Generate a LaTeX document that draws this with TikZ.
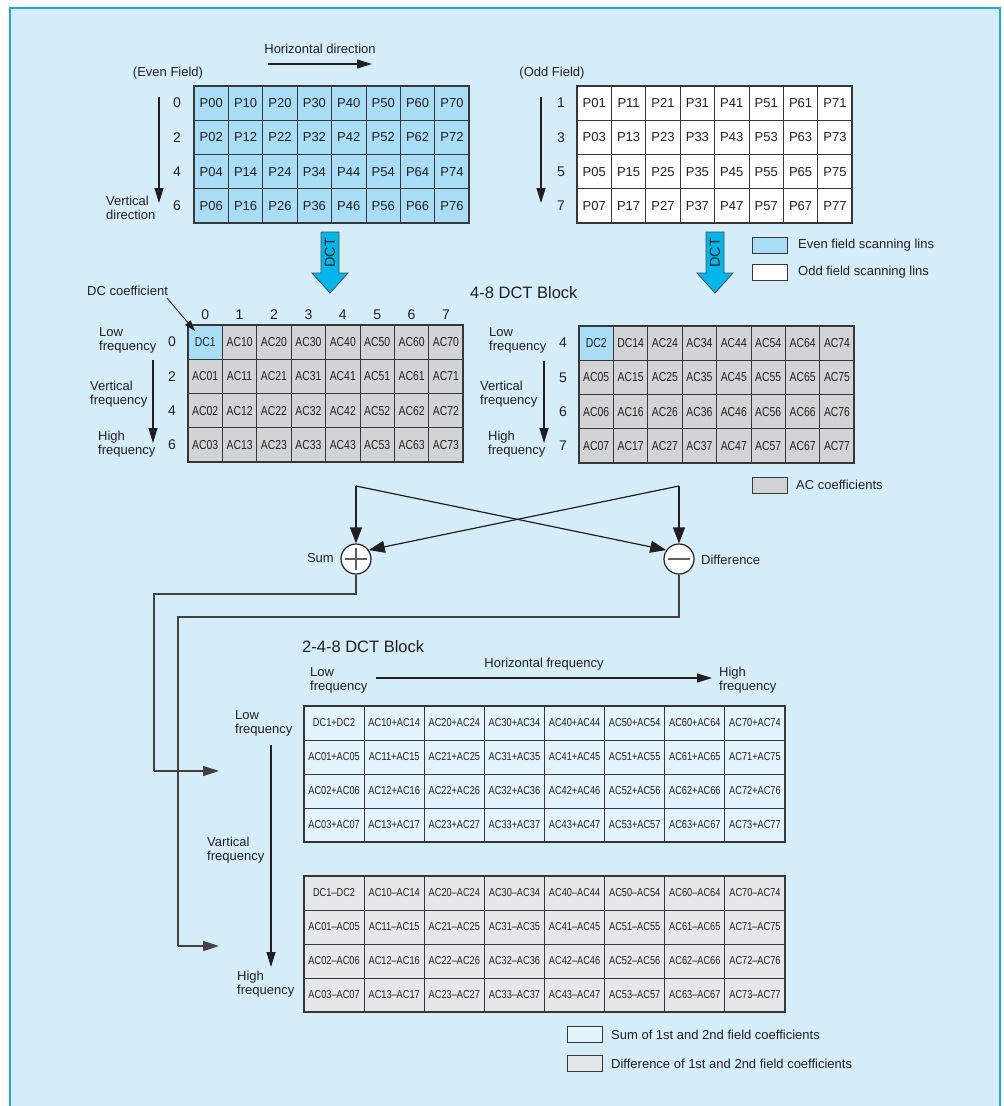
\documentclass[tikz,border=0pt]{standalone}
\usepackage{fontspec}
\setmainfont{Liberation Sans}
\newfontfamily\narrowfont{Liberation Sans}[FakeStretch=0.8]
\usetikzlibrary{arrows.meta}

\definecolor{panelfill}{RGB}{213,236,249}
\definecolor{panelline}{RGB}{30,168,228}
\definecolor{evenfill}{RGB}{168,221,245}
\definecolor{acfill}{RGB}{209,211,212}
\definecolor{sumfill}{RGB}{227,244,252}
\definecolor{difffill}{RGB}{230,231,232}
\definecolor{dctblue}{RGB}{0,183,235}
\definecolor{ink}{RGB}{35,31,32}
\definecolor{gridline}{RGB}{55,55,55}
\definecolor{signgray}{RGB}{95,95,95}

\tikzset{
  lbl/.style={font=\fontsize{13}{14}\selectfont, text=ink, inner sep=0pt, align=left},
  num/.style={font=\fontsize{14}{14}\selectfont, text=ink, inner sep=0pt},
  blocktitle/.style={font=\fontsize{16.5}{18}\selectfont, text=ink, inner sep=0pt},
  pcell/.style={draw=gridline, line width=1pt, minimum width=34.4pt, minimum height=34.25pt,
    inner sep=0pt, outer sep=0pt, font=\fontsize{13}{13}\selectfont, text=ink},
  ccell/.style={pcell, font=\narrowfont\fontsize{13}{13}\selectfont},
  wcell/.style={draw=gridline, line width=1pt, minimum width=60.125pt, minimum height=34pt,
    inner sep=0pt, outer sep=0pt, font=\narrowfont\fontsize{11.5}{12}\selectfont, text=ink},
  gridframe/.style={draw=gridline, line width=1.5pt},
  keybox/.style={draw=gridline, line width=1pt, minimum width=35pt, minimum height=16pt,
    inner sep=0pt},
  arr/.style={draw=ink, line width=1.2pt, -{Triangle[length=15pt,width=9pt]}},
  bigarr/.style={draw=ink, line width=1.2pt, -{Triangle[length=16pt,width=12pt]}},
  thinarr/.style={draw=ink, line width=0.9pt, -{Triangle[length=11pt,width=7pt]}},
  feed/.style={draw=ink!85, line width=1.5pt},
  opcircle/.style={circle, draw=ink, fill=white, line width=1.2pt, minimum size=30pt, inner sep=0pt},
  dctarrow/.style={fill=dctblue, draw=ink!80, line width=0.8pt}
}

\begin{document}
\begin{tikzpicture}[x=1pt,y=-1pt]
\useasboundingbox (0,0) rectangle (1004,1106);
% panel
\fill[white] (0,0) rectangle (1004,1106);
\fill[panelfill] (10,8) rectangle (1000,1112);
\draw[panelline, line width=2.5pt] (10,1112) -- (10,8) -- (1000,8) -- (1000,1112);

% ---------- even field ----------
\node[lbl] (hdir) at (320,49) {Horizontal direction};
\coordinate (hdirA) at (268,64);
\coordinate (hdirB) at (372,64);
\draw[arr] (hdirA) -- (hdirB);
\node[lbl] (evenlbl) at (168,73) {(Even Field)};
\coordinate (vdirA) at (159,97);
\coordinate (vdirB) at (159,203);
\draw[arr] (vdirA) -- (vdirB);
\node[lbl, anchor=west] (vdir) at (106,208) {Vertical\\direction};
\foreach \ry [count=\i from 0] in {0,2,4,6}{
  \node[num] (evrow-\i) at (177,{86+34.25*(\i+0.5)}) {\ry};
  \foreach \cx in {0,...,7}{
    \node[pcell, fill=evenfill] (ev-\cx-\i) at ({194+34.4*(\cx+0.5)},{86+34.25*(\i+0.5)}) {P\cx\ry};
  }
}
\draw[gridframe] (ev-0-0.north west) rectangle (ev-7-3.south east);

% ---------- odd field ----------
\node[lbl] (oddlbl) at (552,73) {(Odd Field)};
\coordinate (vodA) at (541,97);
\coordinate (vodB) at (541,203);
\draw[arr] (vodA) -- (vodB);
\foreach \ry [count=\i from 0] in {1,3,5,7}{
  \node[num] (odrow-\i) at (561,{86+34.25*(\i+0.5)}) {\ry};
  \foreach \cx in {0,...,7}{
    \node[pcell, fill=white] (od-\cx-\i) at ({577+34.4*(\cx+0.5)},{86+34.25*(\i+0.5)}) {P\cx\ry};
  }
}
\draw[gridframe] (od-0-0.north west) rectangle (od-7-3.south east);

% ---------- DCT arrows ----------
\draw[dctarrow] (321,232) -- (339,232) -- (339,273) -- (348,273) -- (330,293) -- (312,273) -- (321,273) -- cycle;
\node[num, font=\fontsize{14.5}{15}\selectfont, rotate=90] (dctL) at (330,253) {DCT};
\draw[dctarrow] (706,232) -- (724,232) -- (724,273) -- (733,273) -- (715,293) -- (697,273) -- (706,273) -- cycle;
\node[num, font=\fontsize{14.5}{15}\selectfont, rotate=90] (dctR) at (715,253) {DCT};

% legend (fields)
\node[keybox, fill=evenfill] (keyeven) at (769.5,245) {};
\node[lbl, anchor=west] (keyevenT) at (798,245) {Even field scanning lins};
\node[keybox, fill=white] (keyodd) at (769.5,272) {};
\node[lbl, anchor=west] (keyoddT) at (798,272) {Odd field scanning lins};

\node[blocktitle, anchor=west] (t48) at (470,293) {4-8 DCT Block};

% ---------- left 4-8 DCT block ----------
\node[lbl, anchor=west] (dccoef) at (87,291) {DC coefficient};
\foreach \cx in {0,...,7}{
  \node[num] (lcol-\cx) at ({188+34.4*(\cx+0.5)},315) {\cx};
}
\foreach \ry [count=\i from 0] in {0,2,4,6}{
  \node[num] (lrow-\i) at (172,{325+34.25*(\i+0.5)}) {\ry};
  \foreach \cx in {0,...,7}{
    \ifnum\i=0
      \ifnum\cx=0 \def\txt{DC1}\def\cf{evenfill}\else\edef\txt{AC\cx0}\def\cf{acfill}\fi
    \else
      \edef\txt{AC\cx\i}\def\cf{acfill}
    \fi
    \node[ccell, fill=\cf] (ld-\cx-\i) at ({188+34.4*(\cx+0.5)},{325+34.25*(\i+0.5)}) {\txt};
  }
}
\draw[gridframe] (ld-0-0.north west) rectangle (ld-7-3.south east);
\coordinate (dccoefA) at (167,298);
\draw[thinarr] (dccoefA) -- ([shift={(7pt,-6pt)}]ld-0-0.north west);
\node[lbl, anchor=west] (llow) at (99,340) {Low\\frequency};
\node[lbl, anchor=west] (lvert) at (90,394) {Vertical\\frequency};
\node[lbl, anchor=west] (lhigh) at (98,444) {High\\frequency};
\coordinate (lvA) at (153,360);
\coordinate (lvB) at (153,443);
\draw[arr] (lvA) -- (lvB);

% ---------- right 4-8 DCT block ----------
\foreach \i in {0,...,3}{
  \pgfmathtruncatemacro\ry{\i+4}
  \node[num] (rrow-\i) at (563,{326+34.25*(\i+0.5)}) {\ry};
  \foreach \cx in {0,...,7}{
    \ifnum\i=0
      \ifnum\cx=0 \def\txt{DC2}\def\cf{evenfill}\else
        \ifnum\cx=1 \def\txt{DC14}\else\edef\txt{AC\cx4}\fi\def\cf{acfill}\fi
    \else
      \edef\txt{AC\cx\ry}\def\cf{acfill}
    \fi
    \node[ccell, fill=\cf] (rd-\cx-\i) at ({579+34.4*(\cx+0.5)},{326+34.25*(\i+0.5)}) {\txt};
  }
}
\draw[gridframe] (rd-0-0.north west) rectangle (rd-7-3.south east);
\node[lbl, anchor=west] (rlow) at (489,340) {Low\\frequency};
\node[lbl, anchor=west] (rvert) at (480,394) {Vertical\\frequency};
\node[lbl, anchor=west] (rhigh) at (488,444) {High\\frequency};
\coordinate (rvA) at (544,361);
\coordinate (rvB) at (544,443);
\draw[arr] (rvA) -- (rvB);

\node[keybox, fill=acfill] (keyac) at (769.5,485) {};
\node[lbl, anchor=west] (keyacT) at (796,485) {AC coefficients};

% ---------- sum / difference ----------
\coordinate (xL) at (356,486);
\coordinate (xR) at (679,486);
\node[opcircle] (sum) at (356,559) {};
\node[opcircle] (diff) at (679,559) {};
\draw[signgray, line width=1.1pt] ([xshift=-11pt]sum.center) -- ([xshift=11pt]sum.center);
\draw[signgray, line width=1.1pt] ([yshift=11pt]sum.center) -- ([yshift=-11pt]sum.center);
\draw[signgray, line width=1.1pt] ([xshift=-11pt]diff.center) -- ([xshift=11pt]diff.center);
\node[lbl, anchor=east] (sumT) at (334,558) {Sum};
\node[lbl, anchor=west] (diffT) at (701,560) {Difference};
\draw[bigarr] (xL) -- (sum);
\draw[bigarr] (xL) -- (diff.145);
\draw[bigarr] (xR) -- (diff);
\draw[bigarr] (xR) -- (sum.35);

% feeds into the 2-4-8 block
\coordinate (sumIn) at (219,771);
\coordinate (diffIn) at (219,946);
\draw[feed] (sum.south) -- (356,594) -- (154,594) -- (154,771);
\draw[feed, -{Triangle[length=16pt,width=10pt]}] (154,771) -- (sumIn);
\draw[feed] (diff.south) -- (679,617) -- (178,617) -- (178,946);
\draw[feed, -{Triangle[length=16pt,width=10pt]}] (178,946) -- (diffIn);

% ---------- 2-4-8 DCT block ----------
\node[blocktitle, anchor=west] (t248) at (302,647) {2-4-8 DCT Block};
\node[lbl, anchor=west] (hlow) at (310,680) {Low\\frequency};
\node[lbl] (hfreq) at (544,664) {Horizontal frequency};
\node[lbl, anchor=west] (hhigh) at (719,680) {High\\frequency};
\coordinate (hfA) at (376,678);
\coordinate (hfB) at (712,678);
\draw[arr] (hfA) -- (hfB);

\foreach \i in {0,...,3}{
  \pgfmathtruncatemacro\ry{\i+4}
  \foreach \cx in {0,...,7}{
    \ifnum\i=0
      \ifnum\cx=0 \def\txt{DC1+DC2}\def\dtxt{DC1–DC2}\else
        \edef\txt{AC\cx0+AC\cx4}\edef\dtxt{AC\cx0–AC\cx4}\fi
    \else
      \edef\txt{AC\cx\i+AC\cx\ry}\edef\dtxt{AC\cx\i–AC\cx\ry}
    \fi
    \node[wcell, fill=sumfill] (sg-\cx-\i) at ({304+60.125*(\cx+0.5)},{706+34*(\i+0.5)}) {\txt};
    \node[wcell, fill=difffill] (dg-\cx-\i) at ({304+60.125*(\cx+0.5)},{876+34*(\i+0.5)}) {\dtxt};
  }
}
\draw[gridframe] (sg-0-0.north west) rectangle (sg-7-3.south east);
\draw[gridframe] (dg-0-0.north west) rectangle (dg-7-3.south east);

\node[lbl, anchor=west] (vlow) at (235,723) {Low\\frequency};
\node[lbl, anchor=west] (vvert) at (207,850) {Vartical\\frequency};
\node[lbl, anchor=west] (vhigh) at (237,984) {High\\frequency};
\coordinate (vfA) at (271,745);
\coordinate (vfB) at (271,967);
\draw[arr] (vfA) -- (vfB);

% legend (2-4-8)
\node[keybox, fill=sumfill] (keysum) at (584.5,1034) {};
\node[lbl, anchor=west] (keysumT) at (611,1035) {Sum of 1st and 2nd field coefficients};
\node[keybox, fill=difffill] (keydiff) at (584.5,1063) {};
\node[lbl, anchor=west] (keydiffT) at (611,1064) {Difference of 1st and 2nd field coefficients};
\end{tikzpicture}
\end{document}
